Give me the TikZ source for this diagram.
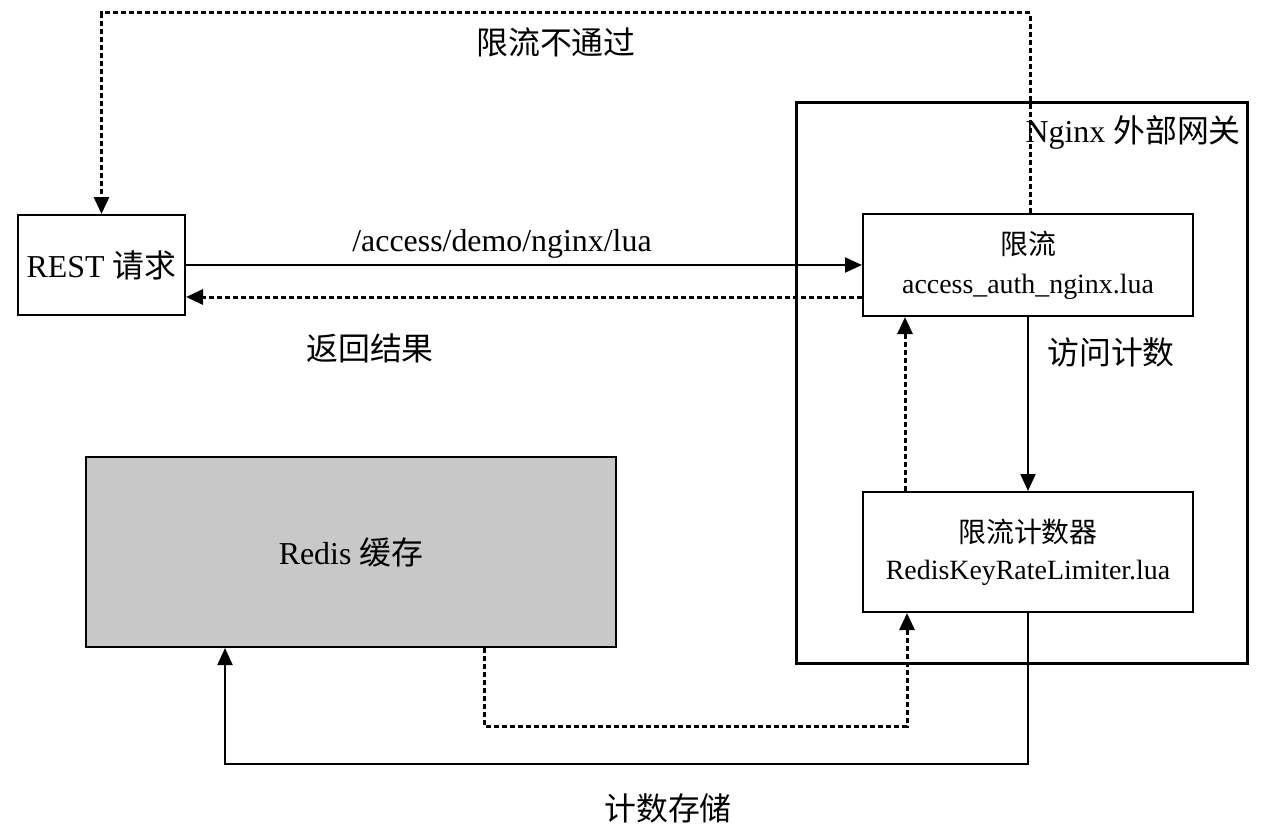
\documentclass[tikz,border=0pt]{standalone}
\usepackage{fontspec}
\setmainfont{Liberation Serif}
\newfontfamily\cjk{Noto Sans CJK SC}
\usetikzlibrary{arrows.meta}
\tikzset{
  box/.style={draw, line width=2bp, inner sep=0pt, align=center, font=\fontsize{28}{39}\selectfont},
  lbl/.style={font=\fontsize{32}{38}\selectfont, inner sep=0pt},
  arr/.style={line width=2bp, -{Triangle[length=17bp,width=15bp]}},
  darr/.style={line width=3bp, dash pattern=on 5bp off 3bp, -{Triangle[length=17bp,width=15bp]}},
}
\begin{document}
\begin{tikzpicture}[x=1bp,y=-1bp]
\useasboundingbox (0,0) rectangle (1270,839);
% outer gateway box
\node[draw, line width=3bp, minimum width=451bp, minimum height=560bp, inner sep=0pt] (ngx) at (1021.5,383) {};
\node[lbl, anchor=east] (ngxl) at (1241,132) {Nginx {\cjk 外部网关}};
% boxes
\node[box, minimum width=167bp, minimum height=100bp, font=\fontsize{32}{38}\selectfont] (rest) at (101.5,265) {REST {\cjk 请求}};
\node[box, minimum width=330bp, minimum height=102bp] (xl) at (1028,265) {{\cjk 限流}\\access\_auth\_nginx.lua};
\node[box, minimum width=330bp, minimum height=120bp, font=\fontsize{28}{37}\selectfont] (cnt) at (1028,552) {{\cjk 限流计数器}\\RedisKeyRateLimiter.lua};
\node[box, fill={rgb,255:red,200;green,200;blue,200}, minimum width=530bp, minimum height=190bp, font=\fontsize{32}{38}\selectfont] (redis) at (351,552) {Redis {\cjk 缓存}};
% connectors
\draw[arr] (rest.east) -- (xl.west);
\node[lbl] (l1) at (502,244) {/access/demo/nginx/lua};
\draw[darr] ([yshift=-32bp]xl.west) -- ([yshift=-32bp]rest.east);
\node[lbl] (l2) at (370,348) {\cjk 返回结果};
\draw[darr] ([xshift=2bp]xl.north) -- ++(0,-200) -| (rest.north);
\node[lbl] (l3) at (556,42) {\cjk 限流不通过};
\draw[arr] (xl.south) -- (cnt.north);
\node[lbl] (l4) at (1111,352) {\cjk 访问计数};
\draw[darr] ([xshift=-123bp]cnt.north) -- ([xshift=-123bp]xl.south);
\draw[darr] ([xshift=133bp]redis.south) -- ++(0,78) -| ([xshift=-121bp]cnt.south);
\draw[arr] (cnt.south) -- ++(0,151) -| ([xshift=-126bp]redis.south);
\node[lbl] (l5) at (668,808) {\cjk 计数存储};
\end{tikzpicture}
\end{document}
